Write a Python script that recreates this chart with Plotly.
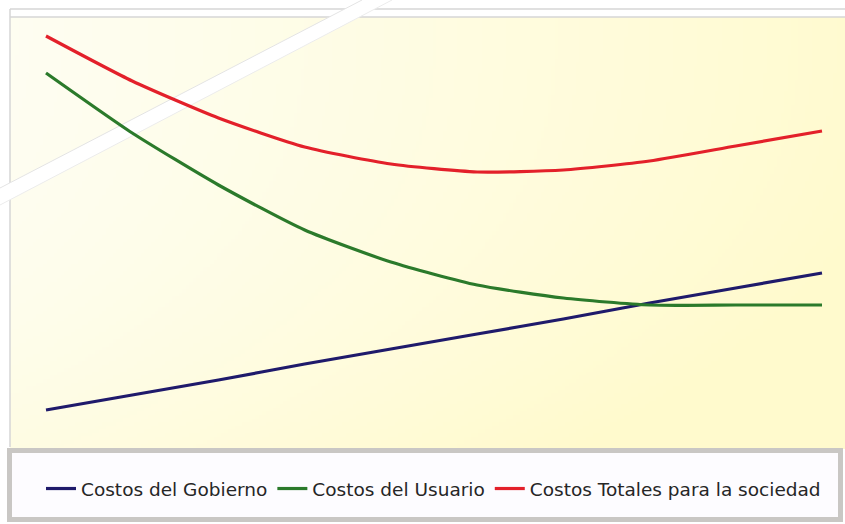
import base64
import struct
import zlib

import numpy as np
import plotly.graph_objects as go

# ---- data -------------------------------------------------------------
niveles = [1, 2, 3, 4, 5, 6, 7, 8, 9, 10]
costos_gobierno = [9.25, 13.0, 16.75, 20.75, 24.5, 28.25, 32.0, 36.0, 39.75, 43.5]
costos_usuario = [93.5, 78.5, 65.5, 54.25, 46.25, 40.5, 37.25, 35.5, 35.5, 35.5]
costos_totales = [102.75, 91.5, 82.25, 75.0, 70.75, 68.75, 69.25, 71.5, 75.25, 79.0]

nombres = [
    "Costos del Gobierno",
    "Costos del Usuario",
    "Costos Totales para la sociedad",
]
colores = ["#1f1a6b", "#2b7a2b", "#e3202a"]

# ---- page geometry (pixels) ------------------------------------------
W, H = 845, 524
L, R, T, B = 10, 838, 17, 447  # plot area edges


def px(xp):
    return (xp - L) / (R - L)


def py(yp):
    return (B - yp) / (B - T)


def png_data_uri(rgb):
    h, w, _ = rgb.shape
    raw = b"".join(b"\x00" + rgb[r].tobytes() for r in range(h))

    def chunk(tag, data):
        c = struct.pack(">I", len(data)) + tag + data
        return c + struct.pack(">I", zlib.crc32(tag + data) & 0xFFFFFFFF)

    png = (
        b"\x89PNG\r\n\x1a\n"
        + chunk(b"IHDR", struct.pack(">IIBBBBB", w, h, 8, 2, 0, 0, 0))
        + chunk(b"IDAT", zlib.compress(raw, 9))
        + chunk(b"IEND", b"")
    )
    return "data:image/png;base64," + base64.b64encode(png).decode()


# soft cream-to-yellow backdrop
gw, gh = 240, 120
u = np.linspace(0, 1, gw)[None, :]
v = np.linspace(0, 1, gh)[:, None]
t = np.clip(0.12 + 0.8 * u ** 1.1 + 0.35 * v ** 2.5, 0, 1)[..., None]
c0 = np.array([254, 254, 246], dtype=float)
c1 = np.array([255, 250, 205], dtype=float)
grad = (c0 + (c1 - c0) * t).round().astype(np.uint8)
fondo = png_data_uri(grad)

fig = go.Figure()
for nombre, serie, color in zip(nombres, [costos_gobierno, costos_usuario, costos_totales], colores):
    fig.add_trace(
        go.Scatter(
            x=niveles,
            y=serie,
            name=nombre,
            mode="lines",
            line=dict(color=color, width=3.2, shape="spline", smoothing=0.6),
            hoverinfo="skip",
        )
    )

gris = "#d6d6d6"
shapes = [
    # frame lines
    dict(type="line", xref="paper", yref="paper", x0=px(10), x1=px(845), y0=py(9), y1=py(9),
         line=dict(color=gris, width=1.5), layer="below"),
    dict(type="line", xref="paper", yref="paper", x0=px(10), x1=px(845), y0=py(17), y1=py(17),
         line=dict(color=gris, width=1.5), layer="below"),
    dict(type="line", xref="paper", yref="paper", x0=px(10), x1=px(10), y0=py(9), y1=py(447),
         line=dict(color=gris, width=1.5), layer="below"),
    # diagonal white break
    dict(type="path", xref="paper", yref="paper",
         path=f"M {px(362)} {py(0)} L {px(392)} {py(0)} L {px(0)} {py(205)} L {px(0)} {py(188)} Z",
         fillcolor="white", line=dict(width=0), layer="below"),
    dict(type="line", xref="paper", yref="paper", x0=px(362), x1=px(0), y0=py(0), y1=py(188),
         line=dict(color="#e4e4e4", width=1), layer="below"),
    dict(type="line", xref="paper", yref="paper", x0=px(392), x1=px(0), y0=py(0), y1=py(205),
         line=dict(color="#ececec", width=1), layer="below"),
    # legend box
    dict(type="rect", xref="paper", yref="paper", x0=px(9.5), x1=px(840.5), y0=py(450.5), y1=py(519.5),
         fillcolor="#fdfcff", line=dict(color="#c9c7c4", width=5), layer="below"),
]

fig.update_layout(
    width=W,
    height=H,
    margin=dict(l=L, r=W - R, t=T, b=H - B, pad=0),
    paper_bgcolor="white",
    plot_bgcolor="rgba(0,0,0,0)",
    xaxis=dict(visible=False, range=[1 - 36 / 86.22, 10 + 16 / 86.22], fixedrange=True),
    yaxis=dict(visible=False, range=[0, (B - T) / 4], fixedrange=True),
    images=[
        dict(source=fondo, xref="paper", yref="paper", x=px(10), y=py(17),
             sizex=px(845) - px(10), sizey=py(17) - py(449), sizing="stretch",
             xanchor="left", yanchor="top", layer="below")
    ],
    shapes=shapes,
    showlegend=True,
    legend=dict(
        orientation="h",
        x=px(41),
        xanchor="left",
        y=py(489),
        yanchor="middle",
        bgcolor="rgba(0,0,0,0)",
        font=dict(family="DejaVu Sans", size=18.5, color="#262626"),
        itemclick=False,
        itemdoubleclick=False,
    ),
)

fig.write_html("out.html")
